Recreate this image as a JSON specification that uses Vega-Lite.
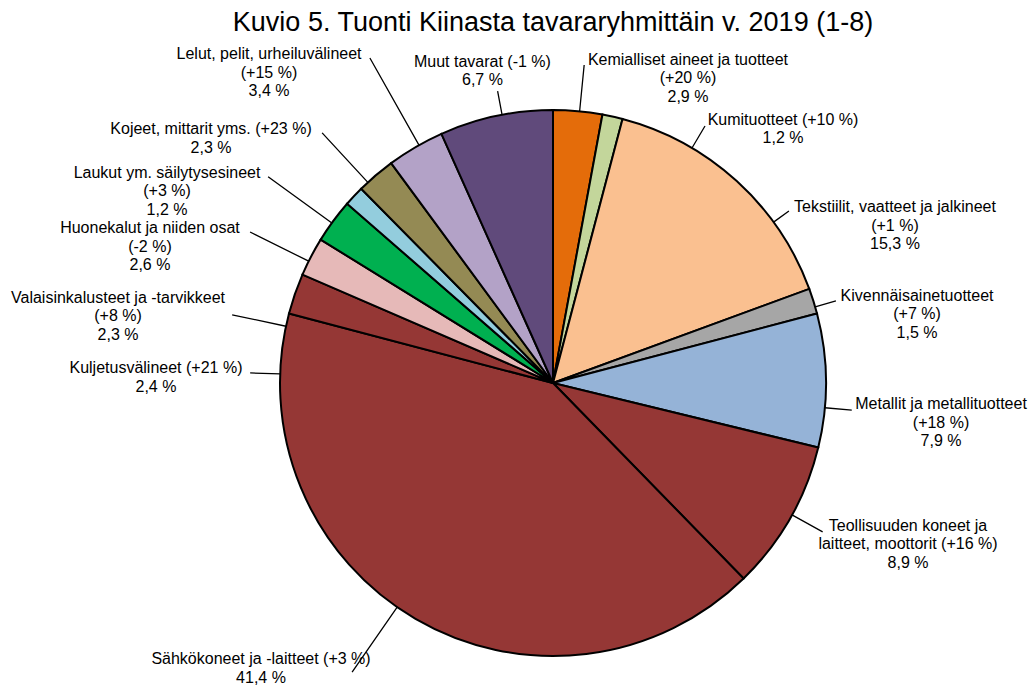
{
  "$schema": "https://vega.github.io/schema/vega-lite/v6.json",
  "width": 958,
  "height": 606,
  "autosize": {"type": "none"},
  "padding": {"left": 74, "top": 80, "right": 0, "bottom": 0},
  "background": "white",
  "title": {
    "text": "Kuvio 5. Tuonti Kiinasta tavararyhmittäin v. 2019 (1-8)",
    "font": "Liberation Sans",
    "fontSize": 27,
    "fontWeight": "normal",
    "color": "black",
    "anchor": "middle",
    "frame": "group",
    "offset": 9
  },
  "config": {"view": {"stroke": null}},
  "data": {
    "values": [
      {"ord": 1, "name": "Kemialliset aineet ja tuotteet", "value": 2.9, "label": "Kemialliset aineet ja tuotteet\n(+20 %)\n2,9 %"},
      {"ord": 2, "name": "Kumituotteet", "value": 1.2, "label": "Kumituotteet (+10 %)\n1,2 %"},
      {"ord": 3, "name": "Tekstiilit, vaatteet ja jalkineet", "value": 15.3, "label": "Tekstiilit, vaatteet ja jalkineet\n(+1 %)\n15,3 %"},
      {"ord": 4, "name": "Kivennäisainetuotteet", "value": 1.5, "label": "Kivennäisainetuotteet\n(+7 %)\n1,5 %"},
      {"ord": 5, "name": "Metallit ja metallituotteet", "value": 7.9, "label": "Metallit ja metallituotteet\n(+18 %)\n7,9 %"},
      {"ord": 6, "name": "Teollisuuden koneet ja laitteet, moottorit", "value": 8.9, "label": "Teollisuuden koneet ja\nlaitteet, moottorit (+16 %)\n8,9 %"},
      {"ord": 7, "name": "Sähkökoneet ja -laitteet", "value": 41.4, "label": "Sähkökoneet ja -laitteet (+3 %)\n41,4 %"},
      {"ord": 8, "name": "Kuljetusvälineet", "value": 2.4, "label": "Kuljetusvälineet (+21 %)\n2,4 %"},
      {"ord": 9, "name": "Valaisinkalusteet ja -tarvikkeet", "value": 2.3, "label": "Valaisinkalusteet ja -tarvikkeet\n(+8 %)\n2,3 %"},
      {"ord": 10, "name": "Huonekalut ja niiden osat", "value": 2.6, "label": "Huonekalut ja niiden osat\n(-2 %)\n2,6 %"},
      {"ord": 11, "name": "Laukut ym. säilytysesineet", "value": 1.2, "label": "Laukut ym. säilytysesineet\n(+3 %)\n1,2 %"},
      {"ord": 12, "name": "Kojeet, mittarit yms.", "value": 2.3, "label": "Kojeet, mittarit yms. (+23 %)\n2,3 %"},
      {"ord": 13, "name": "Lelut, pelit, urheiluvälineet", "value": 3.4, "label": "Lelut, pelit, urheiluvälineet\n(+15 %)\n3,4 %"},
      {"ord": 14, "name": "Muut tavarat", "value": 6.7, "label": "Muut tavarat (-1 %)\n6,7 %"}
    ]
  },
  "transform": [
    {"stack": "value", "groupby": [], "sort": [{"field": "ord", "order": "ascending"}], "as": ["s0", "s1"]}
  ],
  "layer": [
    {
      "mark": {"type": "arc", "outerRadius": 273, "stroke": "black", "strokeWidth": 2},
      "encoding": {
        "theta": {"field": "s0", "type": "quantitative", "stack": null, "scale": {"domain": [0, 100], "zero": false, "nice": false}},
        "theta2": {"field": "s1"},
        "color": {
          "field": "name",
          "type": "nominal",
          "legend": null,
          "scale": {
            "domain": ["Kemialliset aineet ja tuotteet", "Kumituotteet", "Tekstiilit, vaatteet ja jalkineet", "Kivennäisainetuotteet", "Metallit ja metallituotteet", "Teollisuuden koneet ja laitteet, moottorit", "Sähkökoneet ja -laitteet", "Kuljetusvälineet", "Valaisinkalusteet ja -tarvikkeet", "Huonekalut ja niiden osat", "Laukut ym. säilytysesineet", "Kojeet, mittarit yms.", "Lelut, pelit, urheiluvälineet", "Muut tavarat"],
            "range": ["#E46C0A", "#C3D69B", "#FAC090", "#A6A6A6", "#95B3D7", "#953735", "#953735", "#953735", "#E6B9B8", "#00B050", "#93CDDD", "#948A54", "#B3A2C7", "#604A7B"]
          }
        }
      }
    },
    {
      "mark": {"type": "arc", "innerRadius": 273, "stroke": "black", "strokeWidth": 1.3, "fill": "transparent"},
      "encoding": {
        "theta": {"field": "s0", "type": "quantitative", "stack": null, "scale": {"zero": false, "nice": false, "domain": [0, 2.9, 4.1, 19.4, 20.9, 28.8, 37.7, 79.1, 81.5, 83.8, 86.4, 87.6, 89.9, 93.3], "range": [0.0977, 0.5341, 0.9407, 1.2881, 1.6616, 2.0752, 3.749, 4.7455, 4.9218, 5.1749, 5.339, 5.5379, 5.7701, 6.0956]}},
        "theta2": {"field": "s0"},
        "radius": {"field": "s0", "type": "quantitative", "scale": {"type": "linear", "zero": false, "nice": false, "domain": [0, 2.9, 4.1, 19.4, 20.9, 28.8, 37.7, 79.1, 81.5, 83.8, 86.4, 87.6, 89.9, 93.3], "range": [319.5, 298.6, 292, 294.6, 300, 308, 352, 303, 328, 338.5, 351.7, 340.4, 373, 297]}}
      }
    },
    {
      "mark": {"type": "text", "font": "Liberation Sans", "fontSize": 16, "lineHeight": 18.5, "lineBreak": "\n", "align": "center", "baseline": "middle", "fill": "black"},
      "encoding": {
        "text": {"field": "label"},
        "theta": {"field": "s0", "type": "quantitative", "stack": null, "scale": {"zero": false, "nice": false, "domain": [0, 2.9, 4.1, 19.4, 20.9, 28.8, 37.7, 79.1, 81.5, 83.8, 86.4, 87.6, 89.9, 93.3], "range": [0.3958, 0.7186, 1.0955, 1.3362, 1.6249, 1.9537, 3.9551, 4.7501, 4.9054, 5.0795, 5.2107, 5.3512, 5.5711, 6.067]}},
        "radius": {"field": "s0", "type": "quantitative", "scale": {"type": "linear", "zero": false, "nice": false, "domain": [0, 2.9, 4.1, 19.4, 20.9, 28.8, 37.7, 79.1, 81.5, 83.8, 86.4, 87.6, 89.9, 93.3], "range": [350.1, 349.4, 384.6, 374.3, 388.6, 382.7, 401.8, 397.3, 443.2, 431.8, 439.4, 426.0, 434.6, 328.9]}}
      }
    }
  ],
  "resolve": {"scale": {"theta": "independent", "radius": "independent"}}
}
